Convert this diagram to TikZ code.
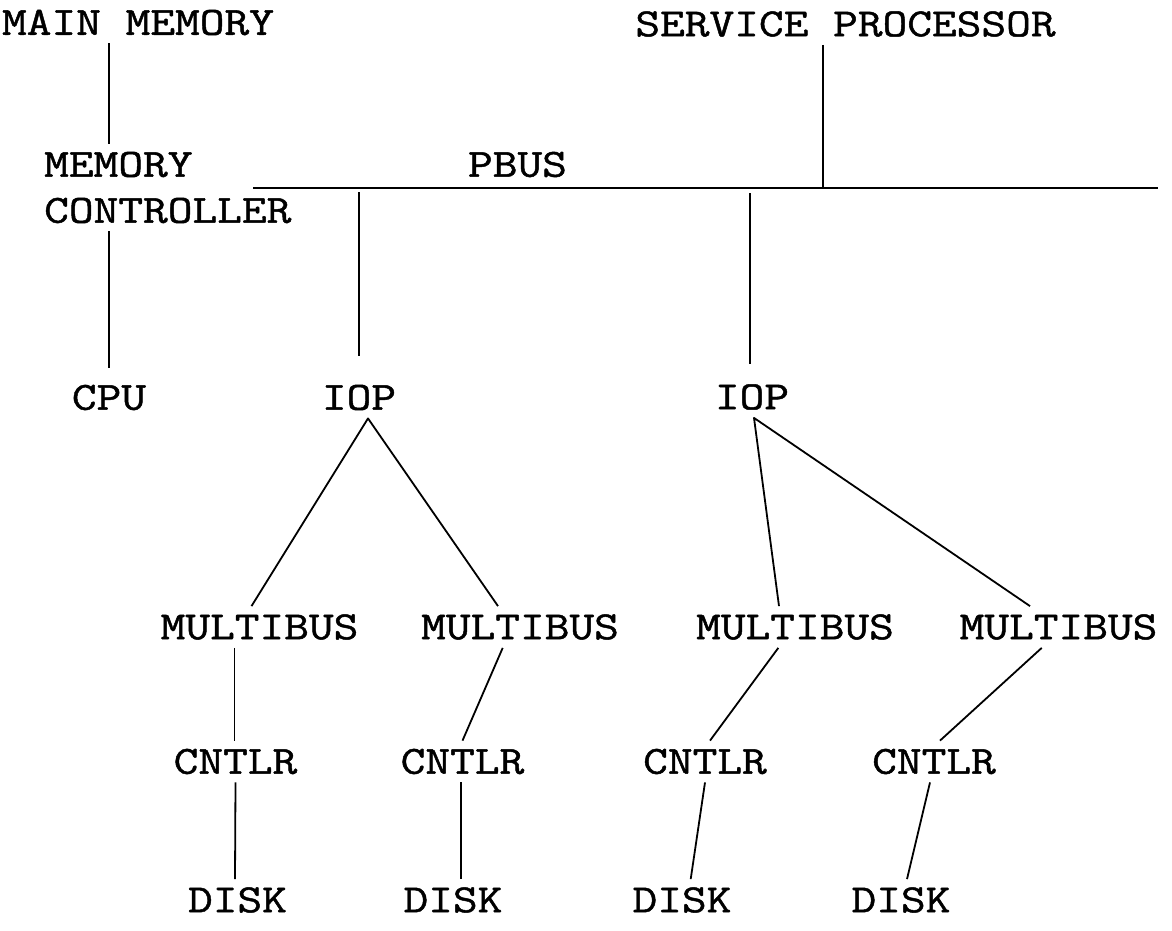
\documentclass[tikz,border=0pt]{standalone}
\usepackage{fontspec}
\newfontfamily\diagfont{Latin Modern Mono}[FakeStretch=1.2, FakeBold=1.2]
\tikzset{
  lbl/.style={font=\diagfont\fontsize{40}{46}\selectfont, inner xsep=0pt, inner ysep=8pt, text=black},
  wire/.style={line width=1.8pt, black, line join=round}
}
\begin{document}
\begin{tikzpicture}[x=1pt,y=-1pt]
\useasboundingbox[fill=white] (0,0) rectangle (1172,930);
% labels
\node[lbl] (mm) at (138,22.5) {MAIN MEMORY};
\node[lbl] (sp) at (845.5,24) {SERVICE PROCESSOR};
\node[lbl, anchor=west, align=left] (mc) at (44,187.5) {MEMORY\\CONTROLLER};
\node[lbl] (pbus) at (517.5,164.5) {PBUS};
\node[lbl] (cpu) at (109,397.5) {CPU};
\node[lbl] (iop1) at (359,397.5) {IOP};
\node[lbl] (iop2) at (752,397) {IOP};
\node[lbl] (mb1) at (259.5,627) {MULTIBUS};
\node[lbl] (mb2) at (520,627) {MULTIBUS};
\node[lbl] (mb3) at (795,627) {MULTIBUS};
\node[lbl] (mb4) at (1058.5,627) {MULTIBUS};
\node[lbl] (c1) at (235.5,761.5) {CNTLR};
\node[lbl] (c2) at (462.5,761.5) {CNTLR};
\node[lbl] (c3) at (705,761.5) {CNTLR};
\node[lbl] (c4) at (934,761.5) {CNTLR};
\node[lbl] (d1) at (237.5,900) {DISK};
\node[lbl] (d2) at (453,900) {DISK};
\node[lbl] (d3) at (682,900) {DISK};
\node[lbl] (d4) at (901,900) {DISK};
% PBUS
\coordinate (pbl) at (253,188);
\coordinate (pbr) at (1158,188);
\coordinate (spj) at (823,188);
\coordinate (j1) at (359,188);
\coordinate (j2) at (750,188);
\draw[wire] (pbl) -- (pbr);
\draw[wire] (sp.south -| spj) -- (spj);
\draw[wire, shorten <=4pt, shorten >=21pt] (j1) -- (iop1.north);
\draw[wire, shorten <=5pt, shorten >=12pt] (j2) -- (j2 |- iop2.north);
% memory chain
\draw[wire] (mm.south -| cpu.north) -- (mc.north -| cpu.north);
\draw[wire, shorten >=9pt] (mc.south -| cpu.north) -- (cpu.north);
% IOP trees
\draw[wire] ([xshift=-8pt]mb1.north) -- ([xshift=9pt]iop1.south) -- ([xshift=-22pt]mb2.north);
\draw[wire] ([xshift=-16pt]mb3.north) -- ([xshift=2pt]iop2.south) -- ([xshift=-28.5pt]mb4.north);
% multibus -> cntlr -> disk
\draw[wire] ([xshift=-25pt]mb1.south) -- ([xshift=-1pt]c1.north);
\draw[wire] (c1.south) -- ([xshift=-2.5pt]d1.north);
\draw[wire] ([xshift=-17.3pt]mb2.south) -- (c2.north);
\draw[wire] ([xshift=-1.5pt]c2.south) -- ([xshift=8pt]d2.north);
\draw[wire] ([xshift=-16.7pt]mb3.south) -- ([xshift=5pt]c3.north);
\draw[wire] (c3.south) -- ([xshift=8.7pt]d3.north);
\draw[wire] ([xshift=-16.8pt]mb4.south) -- ([xshift=6pt]c4.north);
\draw[wire] ([xshift=-4pt]c4.south) -- ([xshift=6pt]d4.north);
\end{tikzpicture}
\end{document}
